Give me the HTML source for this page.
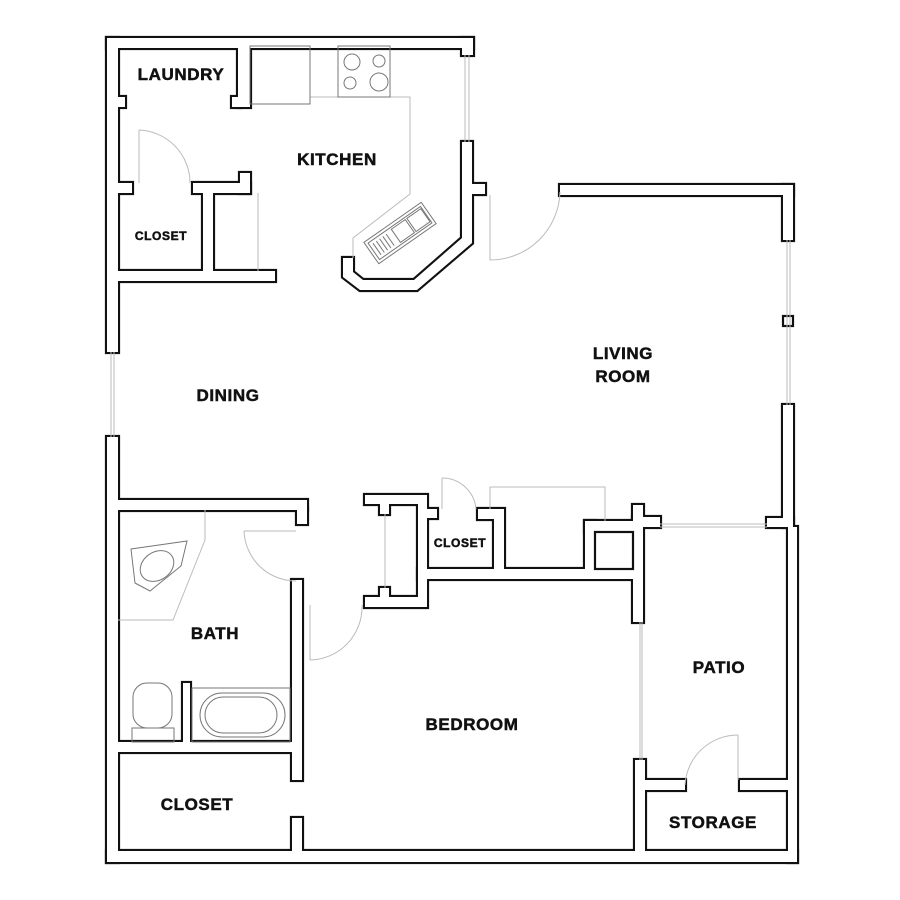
<!DOCTYPE html>
<html><head><meta charset="utf-8"><style>
html,body{margin:0;padding:0;background:#fff;}
svg{display:block;}
text{font-family:"Liberation Sans",sans-serif;font-weight:bold;fill:#111;text-anchor:middle;stroke:#111;stroke-width:0.5;}
</style></head><body>
<svg width="900" height="900" viewBox="0 0 900 900" xmlns="http://www.w3.org/2000/svg">
<rect width="900" height="900" fill="#fff"/>
<defs>
<g id="walls">
<rect x="107" y="38" width="366" height="10"/>
<rect x="462" y="38" width="11" height="17"/>
<rect x="107" y="38" width="11" height="314"/>
<rect x="107" y="437" width="11" height="425"/>
<rect x="107" y="851" width="690" height="11"/>
<rect x="788" y="527" width="9" height="335"/>
<rect x="238" y="46" width="12" height="61"/>
<rect x="232" y="97" width="8" height="10"/>
<rect x="116" y="97" width="9" height="10"/>
<rect x="116" y="183" width="16" height="10"/>
<rect x="193" y="183" width="57" height="10"/>
<rect x="240" y="173" width="10" height="20"/>
<rect x="203" y="191" width="10" height="82"/>
<rect x="116" y="271" width="159" height="10"/>
<polygon points="462,142 472,142 472,184 485,184 485,194 472,194 472,243 417,290 360,290 343,277 343,258 353,258 353,272 363,280 414,280 462,238"/>
<rect x="560" y="185" width="233" height="10"/>
<rect x="783" y="185" width="10" height="55"/>
<rect x="783" y="405" width="10" height="122"/>
<rect x="767" y="518" width="26" height="9"/>
<rect x="116" y="500" width="191" height="10"/>
<rect x="297" y="508" width="10" height="16"/>
<rect x="292" y="580" width="10" height="200"/>
<rect x="116" y="742" width="178" height="10"/>
<rect x="292" y="818" width="10" height="35"/>
<rect x="183" y="683" width="7" height="61"/>
<polygon points="365,495 427,495 427,509 437,509 437,518 427,518 427,607 365,607 365,597 380,597 380,588 389,588 389,597 418,597 418,504 389,504 389,514 380,514 380,504 365,504"/>
<polygon points="478,509 504,509 504,571 494,571 494,519 478,519"/>
<rect x="418" y="569" width="217" height="10"/>
<rect x="585" y="521" width="48" height="11"/>
<rect x="585" y="521" width="10" height="50"/>
<rect x="633" y="505" width="10" height="117"/>
<rect x="633" y="517" width="27" height="10"/>
<rect x="635" y="760" width="10" height="93"/>
<rect x="643" y="780" width="42" height="10"/>
<rect x="740" y="780" width="50" height="10"/>
</g>
</defs>
<use href="#walls" fill="none" stroke="#111" stroke-width="4.2"/>
<use href="#walls" fill="#fff" stroke="none"/>
<rect x="595" y="532" width="38" height="37" fill="#fff" stroke="#111" stroke-width="2.2"/>
<rect x="783" y="316" width="10" height="10" fill="#fff" stroke="#111" stroke-width="2.2"/>

<g fill="none" stroke="#bbb" stroke-width="1">
<line x1="111" y1="352" x2="111" y2="437"/><line x1="114" y1="352" x2="114" y2="437"/>
<line x1="465" y1="55" x2="465" y2="142"/><line x1="469" y1="55" x2="469" y2="142"/>
<line x1="787" y1="240" x2="787" y2="405"/><line x1="790" y1="240" x2="790" y2="405"/>
<line x1="660" y1="524" x2="767" y2="524"/><line x1="660" y1="527" x2="767" y2="527"/>
<line x1="640" y1="622" x2="640" y2="760"/><line x1="642" y1="622" x2="642" y2="760"/>
<polyline points="250,104 310,104 310,97 410,97 410,194 353,238 353,258"/>
<line x1="258" y1="193" x2="258" y2="271"/>
<polyline points="490,509 490,487 605,487 605,521"/>
<line x1="205" y1="510" x2="205" y2="540"/>
<polyline points="205,540 173,620 118,620"/>
<line x1="139" y1="130" x2="139" y2="183"/><path d="M139,130 A53,53 0 0 1 190,183"/>
<line x1="490" y1="195" x2="490" y2="260"/><path d="M490,260 A70,70 0 0 0 560,192"/>
<line x1="442" y1="478" x2="442" y2="509"/><path d="M442,478 A34,34 0 0 1 476,509"/>
<line x1="244" y1="531" x2="296" y2="531"/><path d="M244,531 A52,52 0 0 0 296,581"/>
<line x1="310" y1="605" x2="310" y2="660"/><path d="M310,660 A53,53 0 0 0 362,605"/>
<line x1="738" y1="735" x2="738" y2="780"/><path d="M738,735 A53,53 0 0 0 685,785"/>
<line x1="385" y1="514" x2="385" y2="588"/>
</g>
<g fill="none" stroke="#777" stroke-width="1">
<rect x="250" y="46" width="60" height="58"/>
<rect x="338" y="46" width="52" height="51"/>
<circle cx="352" cy="62" r="8"/><circle cx="379" cy="61" r="6"/>
<circle cx="350" cy="83" r="6"/><circle cx="379" cy="82" r="9"/>
<g transform="translate(400,233) rotate(-35)">
<rect x="-35" y="-13" width="70" height="26"/>
<rect x="-32" y="-10" width="64" height="20"/>
<rect x="-5" y="-8" width="17" height="16"/><rect x="14" y="-8" width="17" height="16"/>
<line x1="-28" y1="-7" x2="-28" y2="7"/><line x1="-24" y1="-7" x2="-24" y2="7"/><line x1="-20" y1="-7" x2="-20" y2="7"/><line x1="-16" y1="-7" x2="-16" y2="7"/><line x1="-12" y1="-7" x2="-12" y2="7"/>
</g>
<polygon points="131,549 187,541 181,566 150,591 135,583"/>
<ellipse cx="157" cy="566" rx="18" ry="14" transform="rotate(-35 157 566)"/>
<rect x="192" y="688" width="98" height="54"/>
<rect x="200" y="693" width="85" height="44" rx="22"/>
<rect x="205" y="697" width="72" height="36" rx="18"/>
<rect x="133" y="683" width="39" height="45" rx="14"/>
<rect x="132" y="728" width="42" height="14"/>
</g>

<g letter-spacing="0.6">
<text x="181" y="80" font-size="17">LAUNDRY</text>
<text x="337" y="165" font-size="17">KITCHEN</text>
<text x="161" y="240" font-size="12">CLOSET</text>
<text x="228" y="401" font-size="17">DINING</text>
<text x="623" y="359" font-size="17">LIVING</text>
<text x="623" y="382" font-size="17">ROOM</text>
<text x="215" y="639" font-size="17">BATH</text>
<text x="460" y="547" font-size="12">CLOSET</text>
<text x="472" y="730" font-size="17">BEDROOM</text>
<text x="719" y="673" font-size="17">PATIO</text>
<text x="197" y="810" font-size="17">CLOSET</text>
<text x="713" y="828" font-size="17">STORAGE</text>
</g>
</svg>
</body></html>
